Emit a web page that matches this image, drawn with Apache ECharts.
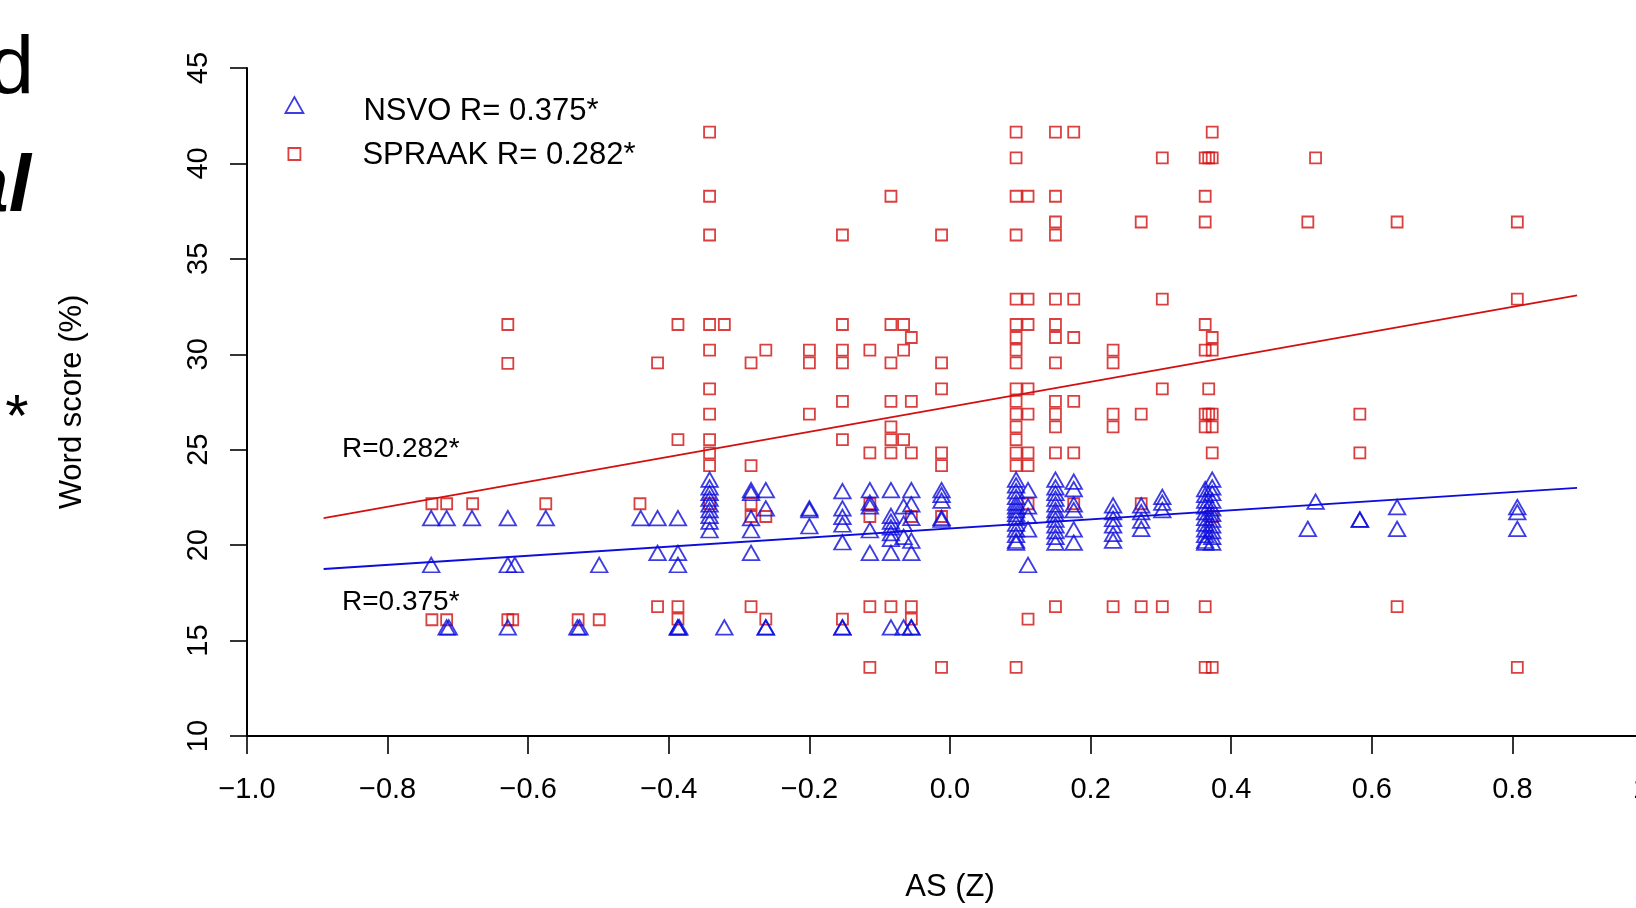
<!DOCTYPE html>
<html><head><meta charset="utf-8">
<script src="https://cdn.jsdelivr.net/npm/echarts@6/dist/echarts.min.js"></script>
<style>html,body{margin:0;padding:0;background:#fff}#chart{width:1636px;height:908px}</style>
</head><body><div id="chart"></div>
<script>
// ---- data ----
const seriesNames = ['NSVO R= 0.375*', 'SPRAAK R= 0.282*'];
const fitLabels = ['R=0.375*', 'R=0.282*'];
const xAxisTitle = 'AS (Z)';
const yAxisTitle = 'Word score (%)';
const xRange = [-1.0, 1.0, 0.2];
const yRange = [10, 45, 5];

// SPRAAK (red squares): [AS z-score, word scores at that x]
const spraakCols = [
  [-0.737, [22.17, 16.09]],
  [-0.716, [22.17, 16.09]],
  [-0.679, [22.17]],
  [-0.629, [31.56, 29.52, 16.09]],
  [-0.622, [16.09]],
  [-0.575, [22.17]],
  [-0.529, [16.09]],
  [-0.499, [16.09]],
  [-0.441, [22.17]],
  [-0.416, [29.55, 16.78]],
  [-0.387, [31.56, 25.53, 16.78, 16.12]],
  [-0.342, [41.64, 38.28, 36.25, 31.56, 30.22, 28.19, 26.86, 25.53, 24.83, 24.17, 22.17]],
  [-0.321, [31.56]],
  [-0.283, [29.55, 24.17, 22.17, 21.5, 16.78]],
  [-0.262, [30.22, 21.5, 16.12]],
  [-0.200, [30.22, 29.55, 26.86]],
  [-0.153, [36.25, 31.56, 30.22, 29.55, 27.53, 25.53, 16.12]],
  [-0.114, [30.22, 24.83, 22.17, 21.5, 16.78, 13.6]],
  [-0.084, [38.28, 31.56, 29.55, 27.53, 26.2, 25.53, 24.83, 16.78]],
  [-0.066, [31.56, 30.22, 25.53]],
  [-0.055, [30.88, 27.53, 24.83, 21.5, 16.78, 16.12]],
  [-0.012, [36.25, 29.55, 28.19, 24.83, 24.17, 21.5, 13.6]],
  [0.094, [41.64, 40.29, 38.28, 36.25, 32.89, 31.56, 30.88, 30.22, 29.55, 28.19, 27.53, 26.86, 26.2, 25.53, 24.83, 24.17, 13.6]],
  [0.111, [38.28, 32.89, 31.56, 28.19, 26.86, 24.83, 24.17, 22.17, 16.12]],
  [0.150, [41.64, 38.28, 36.93, 36.25, 32.89, 31.56, 30.88, 29.55, 27.53, 26.86, 26.2, 24.83, 16.78]],
  [0.176, [41.64, 32.89, 30.88, 27.53, 24.83, 22.17]],
  [0.232, [30.22, 29.55, 26.86, 26.2, 16.78]],
  [0.272, [36.93, 26.86, 22.17, 16.78]],
  [0.302, [40.29, 32.89, 28.19, 16.78]],
  [0.363, [40.29, 38.28, 36.93, 31.56, 30.22, 26.86, 26.2, 16.78, 13.6]],
  [0.368, [40.29, 28.19, 26.86]],
  [0.373, [41.64, 40.29, 30.88, 30.22, 26.86, 26.2, 24.83, 21.5, 13.6]],
  [0.509, [36.93]],
  [0.520, [40.29]],
  [0.583, [26.86, 24.83]],
  [0.636, [36.93, 16.78]],
  [0.807, [36.93, 32.89, 13.6]]
];

// NSVO (blue triangles): [AS z-score, word scores at that x]
const nsvoCols = [
  [-0.738, [21.28, 18.83]],
  [-0.716, [21.28, 15.56]],
  [-0.713, [15.56]],
  [-0.680, [21.28]],
  [-0.629, [21.28, 18.83, 15.56]],
  [-0.619, [18.83]],
  [-0.575, [21.28]],
  [-0.530, [15.56]],
  [-0.527, [15.56]],
  [-0.499, [18.83]],
  [-0.440, [21.28]],
  [-0.416, [21.28, 19.46]],
  [-0.387, [21.28, 19.46, 18.83, 15.56, 15.56]],
  [-0.385, [15.56]],
  [-0.342, [23.3, 22.9, 22.6, 22.3, 22.0, 21.7, 21.4, 21.1, 20.65]],
  [-0.321, [15.56]],
  [-0.283, [22.75, 22.6, 21.28, 20.65, 19.46]],
  [-0.262, [22.75, 21.8, 15.56, 15.56]],
  [-0.200, [21.8, 21.7, 20.86]],
  [-0.153, [22.7, 21.8, 21.35, 20.95, 20.02, 15.56, 15.56]],
  [-0.114, [22.75, 22.1, 21.9, 20.65, 19.46]],
  [-0.084, [22.75, 21.4, 21.1, 20.8, 20.5, 20.2, 19.46, 15.56]],
  [-0.066, [21.9, 21.0, 20.3, 15.56]],
  [-0.055, [22.75, 22.0, 21.3, 20.1, 19.46, 15.56, 15.56]],
  [-0.012, [22.75, 22.5, 22.2, 21.3, 21.2]],
  [0.094, [23.3, 23.0, 22.7, 22.4, 22.1, 21.9, 21.7, 21.5, 21.3, 21.0, 20.7, 20.4, 20.1, 20.0]],
  [0.111, [22.75, 21.9, 21.4, 20.7, 18.83]],
  [0.150, [23.3, 22.9, 22.6, 22.3, 22.0, 21.7, 21.5, 21.2, 20.9, 20.6, 20.3, 20.0]],
  [0.176, [23.2, 22.8, 22.0, 21.7, 20.7, 20.0]],
  [0.232, [21.95, 21.6, 21.24, 20.9, 20.46, 20.11]],
  [0.272, [21.95, 21.6, 21.15, 20.72]],
  [0.302, [22.4, 22.1, 21.7]],
  [0.363, [22.8, 22.5, 22.2, 21.9, 21.6, 21.3, 21.0, 20.7, 20.4, 20.1, 20.0]],
  [0.373, [23.3, 22.9, 22.6, 22.2, 21.8, 21.5, 21.2, 20.9, 20.6, 20.3, 20.0]],
  [0.509, [20.72]],
  [0.520, [22.15]],
  [0.583, [21.21, 21.21]],
  [0.636, [21.86, 20.72]],
  [0.807, [21.86, 21.6, 20.72]]
];

// regression lines (end points)
const nsvoFit = [[-0.891, 18.75], [0.892, 23.0]];
const spraakFit = [[-0.891, 21.42], [0.892, 33.09]];

// ---- build chart ----
const flatten = cols => cols.flatMap(([x, ys]) => ys.map(y => [x, y]));
const nsvoPoints = flatten(nsvoCols);
const spraakPoints = flatten(spraakCols);

const BLUE = '#0c0cdc';
const RED = '#d21010';
const FONT = '"Liberation Sans", Arial, Helvetica, sans-serif';

const fmtX = v => {
  if (Math.abs(v) < 1e-9) return '0.0';
  return (v < 0 ? '\u2212' : '') + Math.abs(v).toFixed(1);
};

const legendText = (padTop) => ({
  fontSize: 31, color: '#000', fontFamily: FONT,
  rich: {t: {fontSize: 31, color: '#000', fontFamily: FONT, padding: [padTop, 0, 0, 0]}}
});

const chart = echarts.init(document.getElementById('chart'), null, {renderer: 'canvas'});
chart.setOption({
  backgroundColor: '#ffffff',
  animation: false,
  grid: {left: 247, top: 68, right: -17, bottom: 172, containLabel: false, outerBoundsMode: 'none'},
  xAxis: {
    type: 'value', min: xRange[0], max: xRange[1], interval: xRange[2],
    axisLine: {onZero: false, lineStyle: {color: '#000', width: 2}},
    axisTick: {length: 18, lineStyle: {color: '#000', width: 1.6}},
    axisLabel: {color: '#000', fontSize: 29, fontFamily: FONT, margin: 39, formatter: fmtX, showMaxLabel: true, showMinLabel: true},
    splitLine: {show: false}
  },
  yAxis: {
    type: 'value', min: yRange[0], max: yRange[1], interval: yRange[2],
    axisLine: {onZero: false, lineStyle: {color: '#000', width: 2}},
    axisTick: {length: 17, lineStyle: {color: '#000', width: 1.6}},
    axisLabel: {color: '#000', fontSize: 29, fontFamily: FONT, rotate: 90, margin: 34},
    splitLine: {show: false}
  },
  legend: [
    {
      data: [{name: seriesNames[0], icon: 'triangle', itemStyle: {color: 'rgba(0,0,0,0)', borderColor: BLUE, borderWidth: 1.8}}],
      left: 284.5, top: 95.5, padding: 0, itemWidth: 18, itemHeight: 16, itemGap: 0,
      selectedMode: false,
      formatter: '{t|{name}}',
      textStyle: Object.assign(legendText(12), {padding: [0, 0, 0, 55]})
    },
    {
      data: [{name: seriesNames[1], icon: 'rect', itemStyle: {color: 'rgba(0,0,0,0)', borderColor: RED, borderWidth: 1.8}}],
      left: 287.5, top: 140, padding: 0, itemWidth: 12, itemHeight: 12, itemGap: 0,
      selectedMode: false,
      formatter: '{t|{name}}',
      textStyle: Object.assign(legendText(3), {padding: [0, 0, 0, 57]})
    }
  ],
  series: [
    {
      name: seriesNames[1], type: 'scatter', data: spraakPoints, z: 2,
      symbol: 'rect', symbolSize: 11,
      itemStyle: {color: 'rgba(0,0,0,0)', borderColor: RED, borderWidth: 1.8},
      emphasis: {disabled: true}
    },
    {
      name: seriesNames[0], type: 'scatter', data: nsvoPoints, z: 3,
      symbol: 'triangle', symbolSize: [16.5, 14.5], symbolOffset: [0, -2.5],
      itemStyle: {color: 'rgba(0,0,0,0)', borderColor: BLUE, borderWidth: 1.8},
      emphasis: {disabled: true}
    },
    {
      name: 'SPRAAK fit', type: 'line', data: spraakFit, z: 4, symbol: 'none',
      lineStyle: {color: RED, width: 1.8}, emphasis: {disabled: true}
    },
    {
      name: 'NSVO fit', type: 'line', data: nsvoFit, z: 4, symbol: 'none',
      lineStyle: {color: BLUE, width: 1.8}, emphasis: {disabled: true}
    }
  ],
  graphic: [
    {type: 'text', left: 342, top: 435, style: {text: fitLabels[1], fontSize: 28, fontFamily: FONT, fill: '#000'}},
    {type: 'text', left: 342, top: 588, style: {text: fitLabels[0], fontSize: 28, fontFamily: FONT, fill: '#000'}},
    {type: 'text', x: 950, y: 887, style: {text: xAxisTitle, fontSize: 31, fontFamily: FONT, fill: '#000', align: 'center', verticalAlign: 'middle'}},
    {type: 'text', x: 72, y: 402, rotation: Math.PI / 2, style: {text: yAxisTitle, fontSize: 31, fontFamily: FONT, fill: '#000', align: 'center', verticalAlign: 'middle'}},
    {type: 'text', x: 34, y: 70, style: {text: 'd', fontSize: 82, fontFamily: FONT, fill: '#000', align: 'right', verticalAlign: 'middle'}},
    {type: 'text', x: 31, y: 189, style: {text: 'al', fontSize: 80, fontStyle: 'italic', fontWeight: 'bold', fontFamily: FONT, fill: '#000', align: 'right', verticalAlign: 'middle'}},
    {type: 'text', x: 17, y: 419, style: {text: '*', fontSize: 60, fontFamily: FONT, fill: '#000', align: 'center', verticalAlign: 'middle'}}
  ]
});
</script>
</body></html>
